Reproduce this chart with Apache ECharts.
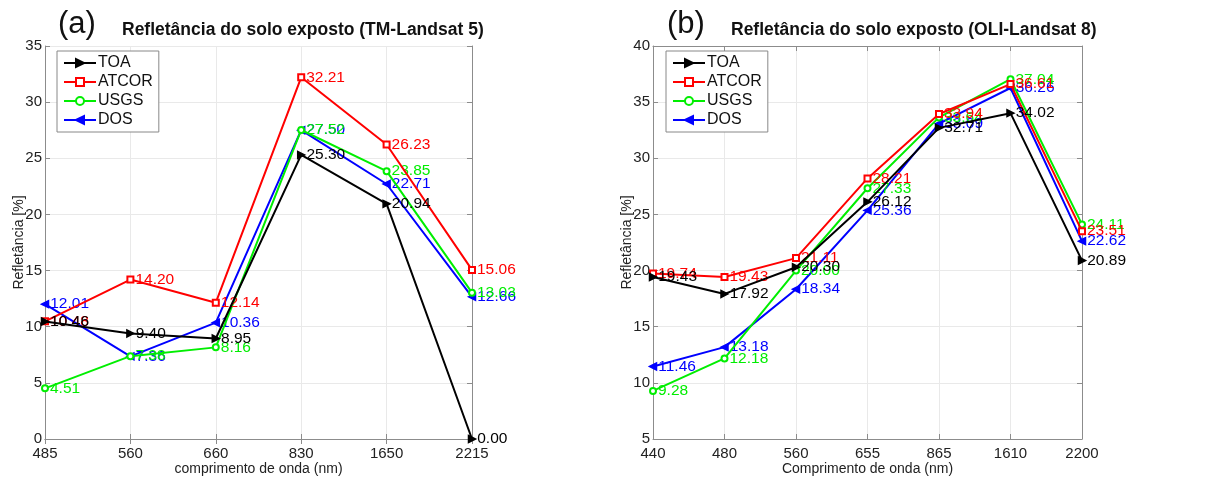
<!DOCTYPE html>
<html>
<head>
<meta charset="utf-8">
<script src="https://cdn.jsdelivr.net/npm/echarts@6/dist/echarts.min.js"></script>
<style>html,body{margin:0;padding:0;background:#fff}#c{width:1206px;height:477px}</style>
</head>
<body>
<div id="c"></div>
<script>
const seriesNames = ['TOA', 'ATCOR', 'USGS', 'DOS'];
const seriesColors = ['#000000', '#ff0000', '#00ee00', '#0000ff'];

const catsA = ['485', '560', '660', '830', '1650', '2215'];
const toaA = [10.46, 9.40, 8.95, 25.30, 20.94, 0.00];
const atcorA = [10.48, 14.20, 12.14, 32.21, 26.23, 15.06];
const usgsA = [4.51, 7.38, 8.16, 27.52, 23.85, 13.03];
const dosA = [12.01, 7.36, 10.36, 27.50, 22.71, 12.66];

const catsB = ['440', '480', '560', '655', '865', '1610', '2200'];
const toaB = [19.43, 17.92, 20.30, 26.12, 32.71, 34.02, 20.89];
const atcorB = [19.74, 19.43, 21.11, 28.21, 33.94, 36.61, 23.51];
const usgsB = [9.28, 12.18, 20.00, 27.33, 33.64, 37.04, 24.11];
const dosB = [11.46, 13.18, 18.34, 25.36, 33.09, 36.26, 22.62];

const titleA = 'Refletância do solo exposto (TM-Landsat 5)';
const titleB = 'Refletância do solo exposto (OLI-Landsat 8)';
const xNameA = 'comprimento de onda (nm)';
const xNameB = 'Comprimento de onda (nm)';
const yName = 'Refletância [%]';

const FONT = 'Liberation Sans, Arial, sans-serif';
const symbols = [['triangle', -90, 7], ['emptyRect', 0, 6], ['emptyCircle', 0, 6], ['triangle', 90, 7]];

function mkSeries(dataList, gi) {
  return dataList.map((d, i) => ({
    name: seriesNames[i],
    type: 'line',
    xAxisIndex: gi * 2,
    yAxisIndex: gi * 2,
    data: d,
    symbol: symbols[i][0],
    symbolRotate: symbols[i][1],
    symbolSize: symbols[i][2],
    showAllSymbol: true,
    lineStyle: { color: seriesColors[i], width: 2 },
    itemStyle: { color: seriesColors[i], borderColor: seriesColors[i], borderWidth: 1.5 },
    label: {
      show: true, position: 'right', distance: 1,
      color: seriesColors[i], fontSize: 15.5, fontFamily: FONT,
      formatter: p => p.value.toFixed(2)
    },
    labelLayout: { hideOverlap: false },
    emphasis: { disabled: true },
    z: 3 + (3 - i),
    animation: false
  }));
}

function mkAxes(cats, gi, xName, ymin, ymax) {
  const axCol = '#8c8c8c';
  const xs = [
    {
      type: 'category', gridIndex: gi, data: cats, boundaryGap: false,
      name: xName, nameLocation: 'middle', nameGap: 23.5, nameMoveOverlap: false,
      nameTextStyle: { fontSize: 14, color: '#222', fontFamily: FONT },
      axisLine: { lineStyle: { color: axCol, width: 1 } },
      axisTick: { inside: true, length: 5, lineStyle: { color: axCol } },
      axisLabel: { fontSize: 15, color: '#222', fontFamily: FONT, margin: 7, interval: 0 },
      splitLine: { show: true, lineStyle: { color: '#e9e9e9', width: 1 } }
    },
    {
      type: 'category', gridIndex: gi, data: cats, boundaryGap: false, position: 'top',
      axisLine: { lineStyle: { color: axCol, width: 1 } },
      axisTick: { inside: true, length: 5, lineStyle: { color: axCol } },
      axisLabel: { show: false }, splitLine: { show: false }
    }
  ];
  const ys = [
    {
      type: 'value', gridIndex: gi, min: ymin, max: ymax, interval: 5,
      name: yName, nameLocation: 'middle', nameGap: 19, nameRotate: 90, nameMoveOverlap: false,
      nameTextStyle: { fontSize: 14, color: '#222', fontFamily: FONT },
      axisLine: { show: true, lineStyle: { color: axCol, width: 1 } },
      axisTick: { show: true, inside: true, length: 5, lineStyle: { color: axCol } },
      axisLabel: { fontSize: 15, color: '#222', fontFamily: FONT, margin: 3 },
      splitLine: { show: true, lineStyle: { color: '#e9e9e9', width: 1 } }
    },
    {
      type: 'value', gridIndex: gi, min: ymin, max: ymax, interval: 5, position: 'right',
      axisLine: { show: true, lineStyle: { color: axCol, width: 1 } },
      axisTick: { show: true, inside: true, length: 5, lineStyle: { color: axCol } },
      axisLabel: { show: false }, splitLine: { show: false }
    }
  ];
  return { xs, ys };
}

const axA = mkAxes(catsA, 0, xNameA, 0, 35);
const axB = mkAxes(catsB, 1, xNameB, 5, 40);

const legendCommon = {
  orient: 'vertical', data: seriesNames,
  backgroundColor: '#fff', borderColor: '#888', borderWidth: 1,
  padding: [4, 6, 4, 6], itemGap: 3, itemWidth: 32, itemHeight: 10,
  textStyle: { fontSize: 16, color: '#111', fontFamily: FONT, padding: [0, 0, 0, -3] },
  selectedMode: false
};

const option = {
  animation: false,
  backgroundColor: '#fff',
  title: [
    { text: '(a)', left: 53, top: 4, textStyle: { fontSize: 31, fontWeight: 'normal', color: '#111', fontFamily: FONT } },
    { text: titleA, left: 117, top: 16, textStyle: { fontSize: 17.5, fontWeight: 'bold', color: '#111', fontFamily: FONT } },
    { text: '(b)', left: 662, top: 4, textStyle: { fontSize: 31, fontWeight: 'normal', color: '#111', fontFamily: FONT } },
    { text: titleB, left: 726, top: 16, textStyle: { fontSize: 17.5, fontWeight: 'bold', color: '#111', fontFamily: FONT } }
  ],
  legend: [
    Object.assign({}, legendCommon, { left: 57, top: 51 }),
    Object.assign({}, legendCommon, { left: 666, top: 51 })
  ],
  grid: [
    { left: 45, right: 734, top: 46, bottom: 38, containLabel: false, outerBoundsMode: 'none' },
    { left: 653, right: 124, top: 46, bottom: 38, containLabel: false, outerBoundsMode: 'none' }
  ],
  xAxis: axA.xs.concat(axB.xs),
  yAxis: axA.ys.concat(axB.ys),
  series: mkSeries([toaA, atcorA, usgsA, dosA], 0).concat(mkSeries([toaB, atcorB, usgsB, dosB], 1))
};

const chart = echarts.init(document.getElementById('c'), null, { renderer: 'canvas' });
chart.setOption(option);
</script>
</body>
</html>
